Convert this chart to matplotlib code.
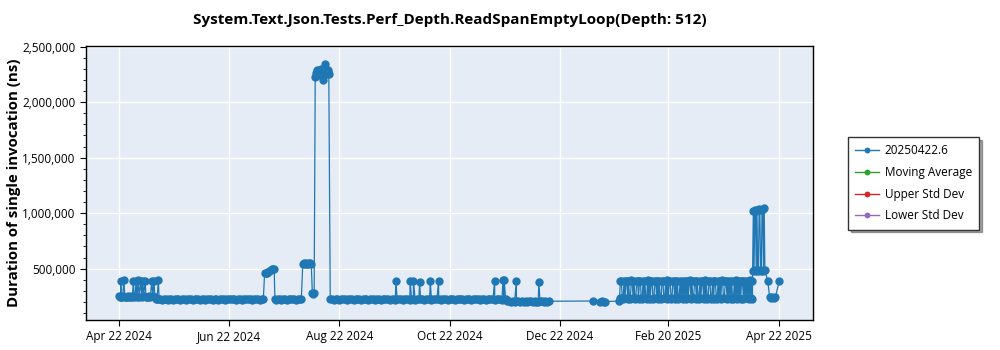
import numpy as np
import pandas as pd
import matplotlib
matplotlib.use("Agg")
import matplotlib.pyplot as plt
import matplotlib.dates as mdates
from matplotlib.ticker import FuncFormatter, MultipleLocator

# Days after the first run (2024-04-22) and invocation time in microseconds (x1000 = ns)
start_days = [0, 0.5, 1.0, 1.1, 1.6, 2.2, 2.9, 3.4, 4.0, 4.6, 5.2, 5.8, 6.4, 7.0, 7.6,
              8.1, 8.6, 9.1, 9.6, 10.1, 10.8, 11.3, 12.2, 12.7, 13.3, 13.8, 14.6, 15.1,
              15.7, 16.3, 16.9, 17.5, 18.3, 18.8, 19.5, 20.0, 20.6, 21.2, 21.9, 22.4]
start_vals = [250, 246, 249, 392, 248, 251, 394, 247, 249, 246, 250, 248, 247, 251, 249,
              393, 248, 250, 391, 247, 394, 249, 392, 246, 393, 250, 392, 248, 249, 247,
              251, 248, 393, 250, 392, 248, 226, 223, 395, 225]

may_days = np.arange(23, 80)
may_vals = [224, 222, 226, 223, 221, 225, 227, 222, 224, 223,
            226, 221, 224, 225, 222, 228, 223, 224, 221, 226,
            225, 223, 222, 227, 224, 221, 225, 223, 226, 222,
            224, 225, 221, 223, 227, 224, 222, 226, 223, 225,
            228, 224, 222, 225, 223, 221, 226, 224, 223, 227,
            225, 222, 224, 226, 223, 221, 224]

july_days = [80, 80.7, 81.3, 82, 82.6, 83.3, 84, 84.6, 85.3, 86, 86.4, 87,
             88, 89, 90, 91, 92, 93, 94, 95, 96, 97, 98, 99, 100, 101]
july_vals = [226, 462, 465, 463, 470, 478, 488, 495, 498, 493, 224, 222,
             223, 225, 222, 226, 224, 221, 225, 223, 227, 224, 222, 225, 223, 226]

aug_days = [101.8, 102.4, 103, 103.6, 104.2, 104.8, 105.4, 106, 106.5, 107.1, 107.6, 108.1,
            108.7, 109.1, 109.5, 109.9, 110.3, 110.7, 111.1, 111.5, 111.9, 112.3, 112.9,
            113.4, 113.9, 114.3, 114.7, 115.1, 115.5, 115.9, 116.2]
aug_vals = [545, 548, 543, 550, 546, 541, 549, 547, 544, 278, 272, 280,
            2230, 2265, 2250, 2285, 2245, 2290, 2275, 2255, 2300, 2260, 2195,
            2240, 2280, 2341, 2265, 2250, 2285, 2270, 2255]

autumn_days = np.arange(117, 239)
autumn_vals = [223, 226, 222, 225, 224, 221, 227, 223, 225, 222,
               224, 226, 223, 221, 225, 224, 228, 222, 223, 226,
               225, 222, 224, 227, 223, 221, 224, 226, 222, 225,
               223, 224, 226, 221, 225, 223, 222, 227, 224, 225,
               222, 226, 223, 224, 221, 225, 224, 222, 226, 223,
               225, 224, 222, 227, 223, 224, 221, 226, 225, 223,
               224, 222, 226, 223, 225, 221, 224, 227, 223, 222,
               226, 224, 223, 225, 222, 228, 224, 223, 221, 226,
               225, 223, 224, 222, 226, 224, 221, 225, 223, 227,
               224, 222, 225, 223, 226, 221, 224, 223,
               212, 208, 204, 206, 203, 209, 205, 202, 207, 204,
               206, 201, 205, 208, 203, 206, 204, 202, 207, 205,
               203, 206, 204, 207]
autumn_spike_days = [153.3, 161.2, 163.0, 166.4, 172.3, 176.9, 207.9, 212.5, 213.2, 219.9, 232.4]
autumn_spike_vals = [392, 390, 393, 378, 390, 391, 392, 394, 396, 393, 381]

winter_days = [262.3, 266.4, 267.5, 268.5, 269.1, 276.5]
winter_vals = [209, 203, 205, 201, 204, 209]

spring_days = np.arange(277, 351, 0.5)
spring_vals = [232, 391, 389, 236, 228, 393, 234, 390, 392, 229,
               388, 235, 231, 394, 390, 233, 391, 227, 236, 389,
               393, 230, 388, 392, 234, 229, 391, 235, 390, 232,
               228, 394, 237, 389, 231, 392, 390, 226, 233, 391,
               389, 234, 393, 230, 388, 236, 229, 392, 391, 233,
               235, 390, 227, 394, 232, 389, 393, 231, 236, 390,
               391, 229, 388, 234, 392, 230, 237, 389, 233, 393,
               230, 392, 236, 391, 228, 390, 233, 388, 394, 231,
               389, 235, 232, 393, 390, 227, 391, 234, 229, 392,
               236, 388, 391, 231, 394, 233, 389, 228, 235, 390,
               392, 230, 234, 389, 227, 393, 390, 236, 231, 388,
               233, 391, 229, 394, 388, 232, 235, 390, 392, 228,
               390, 236, 393, 230, 389, 234, 228, 391, 233, 394,
               229, 388, 235, 392, 231, 390, 393, 227, 389, 236,
               391, 232, 389, 230, 394, 233, 388, 231]

april_days = [350.6, 351.0, 351.4, 351.8, 352.2, 352.6, 353.0, 353.4, 353.8, 354.2,
              354.6, 355.0, 355.4, 355.8, 356.2, 356.6, 357.0, 357.4,
              359.0, 360.0, 360.8, 361.6, 362.4, 363.2, 365.3]
april_vals = [478, 1022, 485, 1030, 1018, 480, 1026, 488, 476, 1035,
              1028, 484, 479, 1032, 1040, 483, 1046, 486,
              390, 244, 240, 243, 238, 241, 391]

x_ticks = ["2024-04-22", "2024-06-22", "2024-08-22", "2024-10-22",
           "2024-12-22", "2025-02-20", "2025-04-22"]

series_name = "20250422.6"
title = "System.Text.Json.Tests.Perf_Depth.ReadSpanEmptyLoop(Depth: 512)"

# Build the run series, sorted by time
days = np.concatenate([start_days, may_days, july_days, aug_days, autumn_days,
                       autumn_spike_days, winter_days, spring_days, april_days])
vals = np.concatenate([start_vals, may_vals, july_vals, aug_vals, autumn_vals,
                       autumn_spike_vals, winter_vals, spring_vals, april_vals])
order = np.argsort(days, kind="stable")
base = pd.Timestamp("2024-04-22")
dates = base + pd.to_timedelta(days[order], unit="D")
durations = vals[order] * 1000.0

plt.rcParams["font.family"] = ["Open Sans", "DejaVu Sans"]

fig = plt.figure(figsize=(10, 3.5), dpi=100)
ax = fig.add_axes([0.086, 0.0857, 0.727, 0.7829])
ax.set_facecolor("#e5ecf6")

ax.plot(dates, durations, color="#1f77b4", linewidth=0.9, marker="o",
        markersize=6, markeredgewidth=0, label=series_name, zorder=3)
# Statistic lines have no values for this run, they only appear in the legend
ax.plot([], [], color="#2ca02c", linewidth=1, marker="o", label="Moving Average")
ax.plot([], [], color="#d62728", linewidth=1, marker="o", label="Upper Std Dev")
ax.plot([], [], color="#9467bd", linewidth=1, marker="o", label="Lower Std Dev")

ax.set_xlim(pd.Timestamp("2024-04-03 22:00"), pd.Timestamp("2025-05-11"))
ax.set_ylim(38000, 2505000)

ax.set_xticks(pd.to_datetime(x_ticks))
ax.xaxis.set_major_formatter(mdates.DateFormatter("%b %d %Y"))
ax.yaxis.set_major_locator(MultipleLocator(500000))
ax.yaxis.set_minor_locator(MultipleLocator(100000))
ax.yaxis.set_major_formatter(FuncFormatter(lambda v, p: f"{int(v):,}"))

ax.grid(True, color="white", linewidth=1)
ax.set_axisbelow(True)
for side in ax.spines.values():
    side.set_color("black")
    side.set_linewidth(1)
ax.tick_params(axis="both", labelsize=8.5, length=4, width=0.8, colors="black")
ax.tick_params(axis="y", which="minor", length=2, width=0.6)

ax.set_title(title, fontsize=11, fontweight="bold", pad=16)
ax.set_ylabel("Duration of single invocation (ns)", fontsize=10.8, fontweight="bold", labelpad=1)

leg = fig.legend(loc="upper left", bbox_to_anchor=(0.848, 0.609), fontsize=8.5,
                 frameon=True, fancybox=False, shadow=True, borderpad=0.6,
                 borderaxespad=0, labelspacing=0.75, handlelength=2.0,
                 handletextpad=0.5)
leg.get_frame().set_edgecolor("#333333")
leg.get_frame().set_linewidth(1)
# same small dot for every legend entry
for handle in leg.legend_handles:
    handle.set_markersize(4.2)
    handle.set_markeredgewidth(0)
    handle.set_linewidth(1)

fig.savefig("out.png", dpi=100)
